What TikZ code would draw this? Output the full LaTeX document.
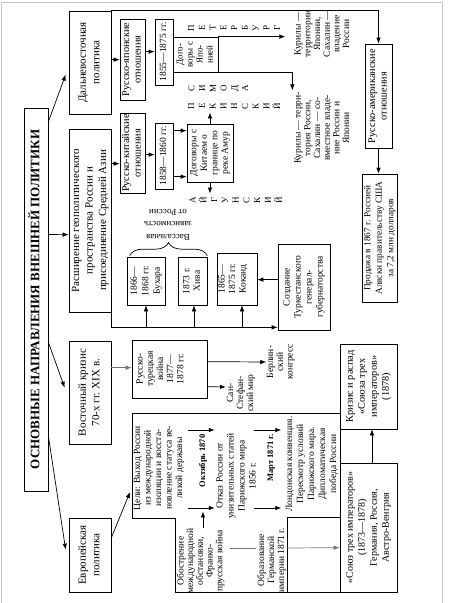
\documentclass[tikz,border=0pt]{standalone}
\usepackage{fontspec}
\setmainfont{Liberation Serif}
\usepackage{graphicx}
\usetikzlibrary{arrows.meta,calc,decorations.pathreplacing}
\newcommand{\rtx}[1]{\rotatebox{90}{\begin{tabular}{@{}c@{}}#1\end{tabular}}}
\newcommand{\rtu}[1]{\rotatebox{180}{\begin{tabular}{@{}c@{}}#1\end{tabular}}}
\tikzset{
  sz/.style 2 args={minimum width=#1, minimum height=#2},
  bx/.style={draw, line width=0.7pt, inner sep=0pt, font=\fontsize{9.5}{10.5}\selectfont},
  lbx/.style={bx, font=\fontsize{11}{13.5}\selectfont},
  rbx/.style={bx, font=\fontsize{10.3}{11.5}\selectfont},
  txt/.style={inner sep=0pt, font=\fontsize{9.5}{10.5}\selectfont},
  ltr/.style={inner sep=0pt, font=\fontsize{9}{10.75}\selectfont},
  bld/.style={inner sep=0pt, font=\fontsize{8.5}{10}\selectfont\bfseries},
  arr/.style={draw, line width=0.7pt, -{Latex[length=6pt,width=4.5pt]}},
  garr/.style={arr, draw=black!55},
  gln/.style={draw=black!55, line width=0.9pt},
  ln/.style={draw, line width=0.7pt},
}
\begin{document}
\begin{tikzpicture}[x=1pt,y=-1pt]
\useasboundingbox (0,0) rectangle (448,603);
\draw[black!22, line width=0.8pt] (1.7,603) -- (1.7,2.7) -- (442,2.7) -- (442,603);

% title
\node[bx, line width=0.9pt, sz={24pt}{383pt}, font=\fontsize{13}{15}\selectfont\bfseries] (title) at (36,299.5) {\rtx{ОСНОВНЫЕ НАПРАВЛЕНИЯ ВНЕШНЕЙ ПОЛИТИКИ}};

% left column
\node[lbx, sz={42pt}{103pt}] (dv) at (90,62.5) {\rtx{Дальневосточная\\политика}};
\node[lbx, sz={42pt}{183pt}] (rs) at (90,220.5) {\rtx{Расширение геополитического\\пространства России и\\присоединение Средней Азии}};
\node[lbx, sz={42pt}{103pt}] (vk) at (90,392.5) {\rtx{Восточный кризис\\70-х гг. XIX в.}};
\node[lbx, sz={42pt}{74pt}] (ep) at (90,555) {\rtx{Европейская\\политика}};

% far east
\node[rbx, sz={25pt}{81pt}] (rj) at (132.5,59.5) {\rtx{Русско-японские\\отношения}};
\node[rbx, sz={25pt}{80pt}] (rk) at (132.5,153) {\rtx{Русско-китайские\\отношения}};
\node[bx, sz={18pt}{66pt}] (y55) at (164,52) {\rtx{1855—1875 гг.}};
\node[bx, sz={18pt}{66pt}] (y58) at (164,156) {\rtx{1858—1860 гг.}};
\node[bx, sz={45pt}{35pt}, font=\fontsize{9}{10}\selectfont] (dj) at (195.5,54.5) {\rtx{Дого-\\воры с\\Япо-\\нией}};
\node[bx, sz={46pt}{58pt}] (dk) at (210,153) {\rtx{Договоры с\\Китаем о\\границе по\\реке Амур}};
\node[ltr] (pet) at (235,28) {\rtx{П\\Е\\Т\\Е\\Р\\Б\\У\\Р\\Г}};
\node[ltr] (sim) at (219,88) {\rtx{С\\И\\М\\О\\Д\\А}};
\node[ltr] (pek) at (235,106) {\rtx{П\\Е\\К\\И\\Н\\С\\К\\И\\Й}};
\node[ltr] (ayg) at (236.5,200) {\rtx{А\\Й\\Г\\У\\Н\\С\\К\\И\\Й}};
\node[txt, font=\fontsize{9.5}{9.7}\selectfont] (bA) at (323,34) {\rtx{Курилы —\\территории\\Японии,\\Сахалин —\\владение\\России}};
\node[txt, font=\fontsize{9.5}{9.7}\selectfont] (bB) at (323,128) {\rtx{Курилы — терри-\\тория России,\\Сахалин — со-\\вместное владе-\\ние России и\\Японии}};
\node[rbx, sz={27pt}{104pt}] (ra) at (378.5,96) {\rtx{Русско-американские\\отношения}};
\node[bx, sz={35pt}{128pt}, font=\fontsize{9.3}{11.5}\selectfont] (pr) at (379.5,238) {\rtx{Продажа в 1867 г. Россией\\Аляски правительству США\\за 7,2 млн долларов}};

% central asia
\node[txt, font=\fontsize{9}{12.5}\selectfont] (vas) at (168,224) {\rtu{Вассальная\\зависимость\\от России}};
\node[bx, sz={38pt}{48pt}, font=\fontsize{9.5}{11.5}\selectfont] (bu) at (146,281) {\rtx{1866—\\1868 гг.\\Бухара}};
\node[bx, sz={29pt}{48pt}] (hi) at (192.5,281) {\rtx{1873 г.\\Хива}};
\node[bx, sz={40pt}{52pt}] (ko) at (237,279) {\rtx{1865—\\1875 гг.\\Коканд}\hspace*{8pt}};
\node[bx, sz={52pt}{86pt}, font=\fontsize{9.5}{11}\selectfont] (tu) at (304,287) {\rtx{Создание\\Туркестанского\\генерал-\\губернаторства}};
\draw[ln, decorate, decoration={brace, amplitude=13pt}] ($(bu.north west)+(3,-1)$) -- ($(hi.north east)+(0,-1)$);

% balkans
\node[bx, sz={75pt}{58pt}, font=\fontsize{9.5}{10.2}\selectfont] (rt) at (169.5,369) {\rtx{Русско-\\турецкая\\война\\1877—\\1878 гг.}\hspace*{17pt}};
\node[txt, font=\fontsize{9.5}{10}\selectfont] (ss) at (241,393) {\rtx{Сан-\\Стефан-\\ский мир}};
\node[txt, font=\fontsize{9.5}{9.7}\selectfont] (bk) at (281,362) {\rtx{Берлин-\\ский\\конгресс}};
\node[bx, sz={57pt}{85pt}, font=\fontsize{10.3}{12}\selectfont] (kr) at (368.5,386.5) {\rtx{Кризис и распад\\«Союза трех\\императоров»\\(1878)}};
\node[bx, sz={57pt}{129pt}, font=\fontsize{10}{12}\selectfont] (st) at (368.5,527.5) {\rtx{«Союз трех императоров»\\(1873—1878)\\Германия, Россия,\\Австро-Венгрия}};

% european block
\draw[ln] (132,413) -- (340,413) -- (340,592) -- (175,592) -- (175,518) -- (132,518) -- cycle;
\draw[ln] (340,517) -- (287,517) -- (287,592);
\node[txt] (goal) at (159,468) {\rtx{Цели: Выход России\\из международной\\изоляции и восста-\\новление статуса ве-\\ликой державы}};
\node[bld] (oct) at (203,461) {\rtx{Октябрь 1870}};
\node[txt, font=\fontsize{9.5}{11}\selectfont] (otk) at (237,476) {\rtx{Отказ России от\\унизительных статей\\Парижского мира\\1856 г.}};
\node[bld] (mar) at (271,458) {\rtx{Март 1871 г.}};
\node[txt, font=\fontsize{9.5}{11}\selectfont] (lon) at (312,464) {\rtx{Лондонская конвенция.\\Пересмотр условий\\Парижского мира.\\Дипломатическая\\победа России}};
\node[txt, font=\fontsize{9.5}{9.7}\selectfont] (obo) at (201,561) {\rtx{Обострение\\международной\\обстановки,\\Франко-\\прусская война}};
\node[txt, font=\fontsize{9.5}{10}\selectfont] (obr) at (272,560) {\rtx{Образование\\Германской\\империи 1871 г.}};

% connectors
\draw[arr] ($(title.north east)+(0,14)$) -- ($(dv.north west)+(-3,64)$);
\draw[arr] ($(title.north east)+(0,127)$) -- ($(rs.north west)+(0,106)$);
\draw[arr] ($(title.north east)+(0,235)$) -- ($(vk.north west)+(-4,47)$);
\draw[arr] ($(title.north east)+(0,329)$) -- ($(ep.north west)+(-3,32)$);
\draw[arr] ($(dv.north east)+(0,49)$) -- ($(rj.north west)+(0,41)$);
\draw[arr] ($(rs.north east)+(0,35)$) -- ($(rk.north west)+(0,51)$);
\draw[arr] ($(rj.north east)+(0,33)$) -- ($(y55.north west)+(0,33)$);
\draw[arr] ($(rk.north east)+(0,42)$) -- ($(y58.north west)+(0,32)$);
\draw[arr] ($(y58.north east)+(0,8)$) -- ($(dk.north west)+(0,7)$);
\draw[arr] ($(y58.north east)+(0,54)$) -- ($(dk.north west)+(0,53)$);
\draw[arr] (dk.north) -- ($(dk.north |- pek.south)+(0,3)$);
\draw[arr] (dk.south) -- ($(dk.south |- ayg.north)+(0,-3)$);
\draw[arr] (dj.north east) -- ($(dj.north east)+(67,0)$);
\draw[arr] (dj.south east) -- ($(dj.south east)+(74,0)$) -- ($(dj.south east)+(74,18)$);
\draw[arr] (dv.north east) -- (dv.north east -| ra.north) -- (ra.north);
\draw[arr] (ra.south) -- (ra.south |- pr.north);
\draw[arr] (rs.south east) |- ($(tu.south west)+(0,-3)$);
\draw[arr] ($(bu.south)+(0,22)$) -- (bu.south);
\draw[arr] ($(hi.south)+(1.5,22)$) -- ($(hi.south)+(1.5,0)$);
\draw[arr] ($(ko.south)+(5,22)$) -- ($(ko.south)+(5,0)$);
\draw[arr] ($(tu.north west)+(0,36)$) -- ($(ko.north east)+(0,27)$);
\draw[garr] ($(vk.north east)+(0,27)$) -- ($(rt.north west)+(0,28)$);
\draw[arr] ($(rt.north east)+(0,47)$) -- ($(ss.west)+(0,-6)$);
\draw[arr] ($(rt.north east)+(0,22)$) -- (bk.west);
\draw[arr] ($(st.north)+(3.5,0)$) -- ($(kr.south)+(3.5,0)$);
\draw[arr] ($(ep.north east)+(0,20)$) -- ($(goal.west)+(-2.5,24)$);
\draw[arr] ($(goal.east)+(3,-38)$) -- ($(otk.west)+(0,-46)$);
\draw[arr] ($(goal.east)+(3,40)$) -- ($(otk.west)+(0,32)$);
\draw[arr] ($(otk.east)+(-5,-46)$) -- ($(lon.west)+(-3,-34)$);
\draw[arr] ($(otk.east)+(-5,32)$) -- ($(lon.west)+(-3,44)$);
\draw[arr] ($(obo.north)+(2,0)$) -- ($(obo.north)+(2,-17)$);
\draw[gln] ($(obo.east)+(5,-13)$) -- ($(obr.west)+(-1,-12)$);
\draw[garr] ($(obr.east)+(0,-12)$) -- ($(st.north west)+(0,85)$);
\end{tikzpicture}
\end{document}
